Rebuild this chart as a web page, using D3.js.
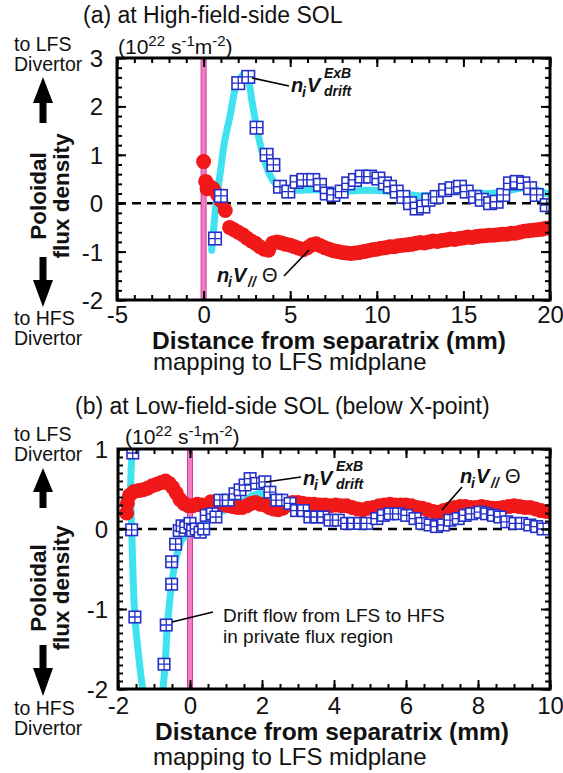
<!DOCTYPE html>
<html><head><meta charset="utf-8">
<script src="https://cdn.jsdelivr.net/npm/d3@7"></script>
<style>
body{margin:0;background:#fff}
svg{display:block}
text{font-family:"Liberation Sans",Arial,Helvetica,sans-serif;fill:#111}
</style>
</head><body>
<svg id="c" width="563" height="773"></svg>
<script>
// ---------------- DATA ----------------
// Panel (a): High-field-side SOL
const aXTicks = [-5, 0, 5, 10, 15, 20];
const aYTicks = [-2, -1, 0, 1, 2, 3];
const aExB = [[0.66,-0.73],[1.0,0.15],[2.0,2.48],[2.58,2.61],[3.06,1.56],[3.64,1.0],[4.03,0.79],[4.41,0.34],[4.89,0.24],[5.37,0.44],[5.76,0.48],[6.33,0.48],[6.72,0.38],[7.11,0.2],[7.49,0.17],[7.97,0.24],[8.35,0.41],[8.74,0.48],[9.13,0.55],[9.61,0.55],[10.09,0.51],[10.47,0.41],[10.76,0.34],[11.15,0.24],[11.53,0.13],[11.92,0.0],[12.3,-0.11],[12.69,-0.07],[12.98,0.07],[13.46,0.13],[13.94,0.27],[14.32,0.31],[14.8,0.34],[15.19,0.24],[15.67,0.13],[16.06,0.07],[16.54,0.0],[16.92,0.03],[17.3,0.17],[17.69,0.41],[18.08,0.44],[18.46,0.41],[18.85,0.31],[19.23,0.17],[19.81,-0.04]];
const aExBFit = [[0.47,-0.97],[0.6,-0.45],[0.75,0.1],[0.95,0.6],[1.2,1.25],[1.52,1.79],[1.91,2.45],[2.29,2.65],[2.6,2.5],[2.78,2.13],[3.06,1.58],[3.35,1.1],[3.83,0.58],[4.22,0.38],[4.8,0.27],[5.5,0.27],[6.5,0.28],[7.5,0.25],[8.5,0.25],[9.5,0.27],[10.5,0.25],[11.5,0.2],[12.5,0.15],[13.5,0.18],[14.5,0.24],[15.5,0.22],[16.5,0.2],[17.5,0.25],[18.5,0.32],[19.2,0.28],[19.8,0.2]];
const aPar = [[0.0,0.86],[0.12,0.45],[0.2,0.3],[0.35,0.35],[0.55,0.3],[0.8,0.18],[1.0,0.05],[1.25,-0.15],[1.5,-0.5],[1.75,-0.55],[2.0,-0.6],[2.25,-0.65],[2.5,-0.72],[2.75,-0.78],[3.0,-0.83],[3.25,-0.9],[3.5,-0.95],[3.75,-0.97],[4.0,-0.82],[4.25,-0.8],[4.5,-0.82],[4.75,-0.85],[5.0,-0.87],[5.25,-0.9],[5.5,-0.93],[5.75,-0.96],[6.0,-0.92],[6.25,-0.86],[6.5,-0.84],[6.75,-0.88],[7.0,-0.92],[7.25,-0.95],[7.5,-0.98],[7.75,-1.0],[8.0,-1.02],[8.25,-1.03],[8.5,-1.04],[8.75,-1.03],[9.0,-1.02],[9.25,-1.0],[9.5,-0.98],[9.75,-0.96],[10.0,-0.95],[10.25,-0.93],[10.5,-0.92],[10.75,-0.9],[11.0,-0.9],[11.25,-0.88],[11.5,-0.87],[11.75,-0.86],[12.0,-0.85],[12.25,-0.83],[12.5,-0.81],[12.75,-0.82],[13.0,-0.8],[13.25,-0.78],[13.5,-0.79],[13.75,-0.77],[14.0,-0.76],[14.25,-0.74],[14.5,-0.75],[14.75,-0.73],[15.0,-0.72],[15.25,-0.7],[15.5,-0.71],[15.75,-0.69],[16.0,-0.68],[16.25,-0.67],[16.5,-0.66],[16.75,-0.66],[17.0,-0.65],[17.25,-0.64],[17.5,-0.64],[17.75,-0.62],[18.0,-0.62],[18.25,-0.6],[18.5,-0.58],[18.75,-0.57],[19.0,-0.56],[19.25,-0.55],[19.5,-0.54],[19.75,-0.52],[20.0,-0.51]];

// Panel (b): Low-field-side SOL (below X-point)
const bXTicks = [-2, 0, 2, 4, 6, 8, 10];
const bYTicks = [-2, -1, 0, 1];
const bExB = [[-1.59,0.95],[-1.62,-0.01],[-1.53,-1.1],[-0.72,-1.69],[-0.66,-1.2],[-0.51,-0.69],[-0.51,-0.41],[-0.4,-0.19],[-0.3,-0.02],[-0.22,0.04],[-0.12,0.02],[0.0,0.07],[0.07,-0.02],[0.17,0.0],[0.28,-0.04],[0.38,0.0],[0.45,0.17],[0.62,0.19],[0.72,0.15],[0.83,0.36],[1.06,0.36],[1.25,0.44],[1.39,0.49],[1.53,0.55],[1.67,0.63],[1.85,0.57],[2.08,0.59],[2.22,0.46],[2.41,0.36],[2.55,0.36],[2.78,0.32],[2.96,0.23],[3.15,0.23],[3.33,0.15],[3.52,0.15],[3.7,0.15],[3.89,0.11],[4.12,0.11],[4.35,0.07],[4.54,0.07],[4.72,0.07],[4.91,0.07],[5.19,0.13],[5.37,0.17],[5.56,0.19],[5.79,0.19],[6.02,0.17],[6.25,0.13],[6.44,0.07],[6.67,0.05],[6.85,0.03],[7.04,0.05],[7.22,0.11],[7.45,0.13],[7.64,0.17],[7.82,0.19],[8.06,0.21],[8.24,0.19],[8.43,0.17],[8.61,0.15],[8.8,0.09],[9.03,0.07],[9.21,0.07],[9.44,0.05],[9.63,0.03],[9.81,0.0]];
const bExBFitLeft = [[-1.6,1.05],[-1.65,0.49],[-1.62,0.0],[-1.53,-1.1],[-1.39,-1.73],[-1.3,-2.05]];
const bExBFitRight = [[-0.76,-2.05],[-0.69,-1.69],[-0.63,-1.22],[-0.51,-0.69],[-0.37,-0.33],[-0.23,-0.14],[0.0,-0.04],[0.28,0.03],[0.56,0.13],[0.83,0.21],[1.11,0.26],[1.39,0.32],[1.67,0.4],[1.85,0.44],[2.03,0.44],[2.22,0.4],[2.5,0.32],[2.78,0.26],[3.15,0.19],[3.52,0.13],[4.0,0.1],[4.5,0.08],[5.0,0.1],[5.5,0.15],[6.0,0.15],[6.5,0.08],[7.0,0.06],[7.5,0.12],[8.0,0.17],[8.5,0.15],[9.0,0.08],[9.5,0.05],[9.85,0.02]];
const bPar = [[-1.76,0.2],[-1.74,0.32],[-1.68,0.42],[-1.55,0.47],[-1.42,0.48],[-1.3,0.49],[-1.18,0.51],[-1.05,0.54],[-0.92,0.56],[-0.8,0.58],[-0.68,0.6],[-0.58,0.57],[-0.48,0.52],[-0.38,0.45],[-0.28,0.37],[-0.17,0.32],[-0.05,0.29],[0.08,0.29],[0.2,0.31],[0.32,0.3],[0.45,0.3],[0.58,0.34],[0.7,0.33],[0.82,0.31],[0.95,0.3],[1.08,0.29],[1.2,0.28],[1.32,0.27],[1.45,0.27],[1.58,0.29],[1.7,0.32],[1.82,0.33],[1.95,0.31],[2.08,0.3],[2.2,0.27],[2.32,0.25],[2.45,0.24],[2.58,0.26],[2.7,0.3],[2.85,0.33],[3.0,0.33],[3.15,0.32],[3.3,0.31],[3.45,0.31],[3.6,0.3],[3.75,0.3],[3.9,0.29],[4.05,0.3],[4.2,0.29],[4.35,0.29],[4.5,0.27],[4.65,0.25],[4.8,0.24],[4.95,0.26],[5.1,0.27],[5.25,0.29],[5.4,0.3],[5.55,0.31],[5.7,0.3],[5.85,0.3],[6.0,0.3],[6.15,0.29],[6.3,0.27],[6.45,0.26],[6.6,0.24],[6.75,0.22],[6.9,0.21],[7.05,0.23],[7.2,0.25],[7.35,0.27],[7.5,0.28],[7.65,0.28],[7.8,0.27],[7.95,0.27],[8.1,0.28],[8.25,0.27],[8.4,0.26],[8.55,0.26],[8.7,0.27],[8.85,0.28],[9.0,0.29],[9.15,0.28],[9.3,0.27],[9.45,0.27],[9.6,0.25],[9.75,0.23],[9.9,0.22]];

// ---------------- DRAWING ----------------
const svg = d3.select("#c");
const FONT = '"Liberation Sans",Arial,Helvetica,sans-serif';
const RED = "#f01818", CYAN = "#3fe2ee", BLUE = "#2430c8", PINK = "#f07cc4", MAG = "#d43c9c";

function panel(o) {
  const x = d3.scaleLinear().domain(o.xd).range([o.l, o.r]);
  const y = d3.scaleLinear().domain(o.yd).range([o.b, o.t]);
  const g = svg.append("g");
  const cid = "clip" + o.id;
  g.append("clipPath").attr("id", cid).append("rect")
    .attr("x", o.l).attr("y", o.t).attr("width", o.r - o.l).attr("height", o.b - o.t);
  const p = g.append("g").attr("clip-path", `url(#${cid})`);

  p.append("rect").attr("x", x(0) - 2.5).attr("y", o.t).attr("width", 5).attr("height", o.b - o.t)
    .attr("fill", PINK).attr("stroke", MAG).attr("stroke-width", 1);
  p.append("line").attr("x1", o.l).attr("x2", o.r).attr("y1", y(0)).attr("y2", y(0))
    .attr("stroke", "#000").attr("stroke-width", 2.6).attr("stroke-dasharray", "9,6");

  const line = d3.line().x(d => x(d[0])).y(d => y(d[1])).curve(d3.curveCatmullRom.alpha(0.5));
  o.fits.forEach(f => p.append("path").attr("d", line(f)).attr("fill", "none")
    .attr("stroke", CYAN).attr("stroke-width", 7).attr("stroke-linecap", "round"));

  p.selectAll("circle.par").data(o.par).join("circle").attr("class", "par")
    .attr("cx", d => x(d[0])).attr("cy", d => y(d[1])).attr("r", o.rr).attr("fill", RED);

  const s = o.sq, h = s / 2;
  const sq = p.selectAll("g.sq").data(o.exb).join("g").attr("class", "sq")
    .attr("transform", d => `translate(${x(d[0])},${y(d[1])})`);
  sq.append("rect").attr("x", -h).attr("y", -h).attr("width", s).attr("height", s)
    .attr("fill", "#fff").attr("stroke", BLUE).attr("stroke-width", 1.6);
  sq.append("path").attr("d", `M${-h},0H${h}M0,${-h}V${h}`).attr("stroke", BLUE).attr("stroke-width", 1.3);

  const fmt = d => String(d);
  const minorX = d3.range(o.xd[0], o.xd[1] + 1e-9, o.xm);
  const minorY = d3.range(o.yd[0], o.yd[1] + 1e-9, o.ym);
  function ax(gen, tr, vals, size, labels) {
    const a = g.append("g").attr("transform", tr)
      .call(gen.tickValues(vals).tickSize(-size).tickPadding(labels ? o.pad : 0).tickFormat(labels ? fmt : ""));
    a.select(".domain").remove();
    a.selectAll("line").attr("stroke", "#000").attr("stroke-width", 2);
    a.selectAll("text").attr("font-size", 24).attr("font-family", FONT).attr("fill", "#111");
    return a;
  }
  ax(d3.axisBottom(x), `translate(0,${o.b})`, minorX, 5, false);
  ax(d3.axisBottom(x), `translate(0,${o.b})`, o.xt, 9, true);
  ax(d3.axisTop(x), `translate(0,${o.t})`, minorX, 5, false);
  ax(d3.axisTop(x), `translate(0,${o.t})`, o.xt, 9, false);
  ax(d3.axisLeft(y), `translate(${o.l},0)`, minorY, 5, false);
  const yl = ax(d3.axisLeft(y), `translate(${o.l},0)`, o.yt, 9, false);
  yl.selectAll(".tick").append("text").attr("x", -o.ypad).attr("dy", "0.35em")
    .attr("text-anchor", "end").attr("font-size", 24).attr("font-family", FONT).attr("fill", "#111")
    .text(d => fmt(d));
  ax(d3.axisRight(y), `translate(${o.r},0)`, minorY, 5, false);
  ax(d3.axisRight(y), `translate(${o.r},0)`, o.yt, 9, false);

  g.append("rect").attr("x", o.l).attr("y", o.t).attr("width", o.r - o.l).attr("height", o.b - o.t)
    .attr("fill", "none").attr("stroke", "#000").attr("stroke-width", 3);
  return {x, y, g};
}

function txt(x, y, s, size, opts = {}) {
  const t = svg.append("text").attr("x", x).attr("y", y).attr("font-size", size).text(s);
  if (opts.bold) t.attr("font-weight", "bold");
  if (opts.italic) t.attr("font-style", "italic");
  if (opts.anchor) t.attr("text-anchor", opts.anchor);
  return t;
}
function units(x, y) {
  const t = svg.append("text").attr("x", x).attr("y", y).attr("font-size", 21);
  t.append("tspan").text("(10");
  t.append("tspan").attr("font-size", 15).attr("dy", -8).text("22");
  t.append("tspan").attr("dy", 8).text(" s");
  t.append("tspan").attr("font-size", 15).attr("dy", -8).text("-1");
  t.append("tspan").attr("dy", 8).text("m");
  t.append("tspan").attr("font-size", 15).attr("dy", -8).text("-2");
  t.append("tspan").attr("dy", 8).text(")");
}
function exbLabel(x, y) {
  const o = {bold: true, italic: true};
  txt(x, y, "n", 20, o);
  txt(x + 11, y + 5, "i", 14, o);
  txt(x + 16, y, "V", 20, o);
  txt(x + 33, y - 14, "ExB", 14, o);
  txt(x + 33, y + 4, "drift", 14, o);
}
function parLabel(x, y) {
  const o = {bold: true, italic: true};
  txt(x, y, "n", 20, o);
  txt(x + 11, y + 5, "i", 14, o);
  txt(x + 16, y, "V", 20, o);
  txt(x + 31, y + 5, "//", 14, o);
  txt(x + 45, y, "\u0398", 20);
}
function leader(x1, y1, x2, y2) {
  svg.append("line").attr("x1", x1).attr("y1", y1).attr("x2", x2).attr("y2", y2)
    .attr("stroke", "#000").attr("stroke-width", 1.6);
}
function arrowUp(cx, tip, base, end) {
  svg.append("path").attr("fill", "#000")
    .attr("d", `M${cx},${tip}L${cx + 10},${base}H${cx + 3.5}V${end}H${cx - 3.5}V${base}H${cx - 10}Z`);
}
function arrowDown(cx, start, base, tip) {
  svg.append("path").attr("fill", "#000")
    .attr("d", `M${cx},${tip}L${cx + 10},${base}H${cx + 3.5}V${start}H${cx - 3.5}V${base}H${cx - 10}Z`);
}
function sideLabels(cy, lfsY, hfsY, up, down) {
  txt(14, lfsY, "to LFS", 19.5);
  txt(14, lfsY + 20, "Divertor", 19.5);
  txt(14, hfsY, "to HFS", 19.5);
  txt(14, hfsY + 20, "Divertor", 19.5);
  svg.append("text").attr("transform", `translate(46,${cy}) rotate(-90)`).attr("text-anchor", "middle")
    .attr("font-size", 22.5).attr("font-weight", "bold").text("Poloidal");
  svg.append("text").attr("transform", `translate(69,${cy}) rotate(-90)`).attr("text-anchor", "middle")
    .attr("font-size", 22.5).attr("font-weight", "bold").text("flux density");
  arrowUp(43, up[0], up[1], up[2]);
  arrowDown(43, down[0], down[1], down[2]);
}

// ---- Panel (a)
txt(83, 23, "(a) at High-field-side SOL", 23);
units(118, 54);
sideLabels(196, 51, 325, [77, 103, 123], [257, 280, 307]);
panel({id: "a", xd: [-5, 20], yd: [-2, 3], l: 117, r: 550, t: 58, b: 300,
  xt: aXTicks, yt: aYTicks, xm: 1, ym: 0.2, pad: 6, ypad: 14,
  exb: aExB, fits: [aExBFit], par: aPar, sq: 12.5, rr: 7.5});
exbLabel(291, 92);
leader(252, 78, 289, 86);
parLabel(217, 282);
leader(284, 276, 309, 250);
txt(152, 349, "Distance from separatrix (mm)", 24.5, {bold: true});
txt(153, 370, "mapping to LFS midplane", 24);

// ---- Panel (b)
txt(75, 414, "(b) at Low-field-side SOL (below X-point)", 23);
units(125, 444);
sideLabels(588, 441, 715, [468, 492, 508], [645, 668, 696]);
panel({id: "b", xd: [-2, 10], yd: [-2, 1], l: 118, r: 550, t: 449, b: 689,
  xt: bXTicks, yt: bYTicks, xm: 0.5, ym: 0.1, pad: 8, ypad: 10,
  exb: bExB, fits: [bExBFitLeft, bExBFitRight], par: bPar, sq: 11.5, rr: 7.5});
exbLabel(303, 485);
leader(266, 482, 301, 477);
parLabel(460, 483);
leader(462, 487, 442, 510);
txt(223, 622, "Drift flow from LFS to HFS", 19);
txt(223, 643, "in private flux region", 19);
leader(172, 622, 213, 612);
txt(155, 740, "Distance from separatrix (mm)", 24.5, {bold: true});
txt(153, 765, "mapping to LFS midplane", 24);
</script>
</body></html>
